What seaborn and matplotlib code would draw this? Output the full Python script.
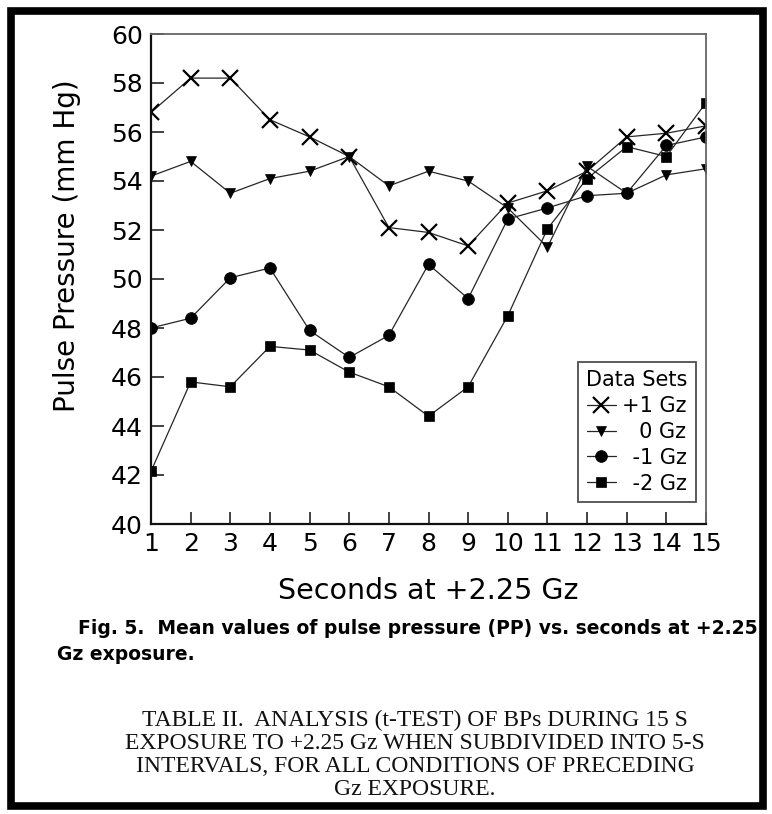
import numpy as np
import pandas as pd
import matplotlib
matplotlib.use("Agg")
import matplotlib.pyplot as plt
import seaborn as sns
from matplotlib.patches import Rectangle

# ---------------- data ----------------
seconds = list(range(1, 16))
series_names = ["+1 Gz", "0 Gz", "-1 Gz", "-2 Gz"]
pp_plus1 = [56.8, 58.2, 58.2, 56.5, 55.8, 55.0, 52.1, 51.9, 51.35, 53.1, 53.6, 54.4, 55.8, 55.95, 56.25]
pp_zero = [54.2, 54.8, 53.5, 54.1, 54.4, 55.0, 53.8, 54.4, 54.0, 52.9, 51.3, 54.6, 53.5, 54.25, 54.5]
pp_minus1 = [48.0, 48.4, 50.05, 50.45, 47.9, 46.8, 47.7, 50.6, 49.2, 52.45, 52.9, 53.4, 53.5, 55.45, 55.8]
pp_minus2 = [42.15, 45.8, 45.6, 47.25, 47.1, 46.2, 45.6, 44.4, 45.6, 48.5, 52.05, 54.1, 55.4, 55.0, 57.2]
y_ticks = list(range(40, 61, 2))
x_label = "Seconds at +2.25 Gz"
y_label = "Pulse Pressure (mm Hg)"
legend_title = "Data Sets"
caption_lines = ["Fig. 5.  Mean values of pulse pressure (PP) vs. seconds at +2.25",
                 "Gz exposure."]
table_lines = ["TABLE II.  ANALYSIS (t-TEST) OF BPs DURING 15 S",
               "EXPOSURE TO +2.25 Gz WHEN SUBDIVIDED INTO 5-S",
               "INTERVALS, FOR ALL CONDITIONS OF PRECEDING",
               "Gz EXPOSURE."]

values = [pp_plus1, pp_zero, pp_minus1, pp_minus2]
df = pd.DataFrame({
    "Seconds": seconds * len(series_names),
    "PP": sum(values, []),
    "Set": sum([[n] * len(seconds) for n in series_names], []),
})

# ---------------- styling ----------------
sns.set_theme(style="white")
plt.rcParams["font.family"] = ["DejaVu Sans"]
plt.rcParams["text.color"] = "black"
plt.rcParams["axes.labelcolor"] = "black"

W, H = 772, 814
fig = plt.figure(figsize=(W / 100, H / 100), dpi=100)
ax = fig.add_axes([151 / W, 1 - 524 / H, 555 / W, 490 / H])

marker_map = {"+1 Gz": "x", "0 Gz": "v", "-1 Gz": "o", "-2 Gz": "s"}
size_map = {"+1 Gz": 11, "0 Gz": 7.5, "-1 Gz": 8.5, "-2 Gz": 6.5}
legend_labels = {"+1 Gz": "+1 Gz", "0 Gz": "\u2002 0 Gz", "-1 Gz": "\u2002-1 Gz", "-2 Gz": "\u2002-2 Gz"}

for name in series_names:
    sub = df[df["Set"] == name]
    sns.lineplot(data=sub, x="Seconds", y="PP", ax=ax, color="#262626",
                 linewidth=0.9, marker=marker_map[name], markersize=size_map[name],
                 markeredgewidth=1.6 if name == "+1 Gz" else 0.5,
                 markerfacecolor="black", markeredgecolor="black",
                 label=legend_labels[name], estimator=None, sort=False)

ax.set_xlim(1, 15)
ax.set_ylim(40, 60)
ax.set_xticks(seconds)
ax.set_yticks(y_ticks)
ax.tick_params(axis="both", direction="in", length=9, width=1.2, color="#222",
               labelsize=18, labelcolor="black", left=True, bottom=True)
ax.tick_params(axis="y", pad=6)
ax.tick_params(axis="x", pad=6)

for s in ["left", "bottom"]:
    ax.spines[s].set_linewidth(1.6)
    ax.spines[s].set_color("#111")
for s in ["top", "right"]:
    ax.spines[s].set_linewidth(1.3)
    ax.spines[s].set_color("#666")
ax.grid(False)

ax.set_xlabel(x_label, fontsize=20.5, color="black")
ax.xaxis.set_label_coords(0.5, -0.108)
ax.set_ylabel(y_label, fontsize=20, color="black")
ax.yaxis.set_label_coords(-0.127, 0.567)

leg = ax.legend(title=legend_title, loc="lower right", bbox_to_anchor=(0.982, 0.045),
                borderaxespad=0, fontsize=15, title_fontsize=15, frameon=True,
                fancybox=False, edgecolor="#222", handlelength=1.4, handletextpad=0.3,
                labelspacing=0.28, borderpad=0.4)
leg.get_frame().set_linewidth(1.3)
for t in leg.get_texts():
    t.set_color("black")
leg.get_title().set_color("black")

# ---------------- captions ----------------
cap1 = fig.text(78 / W, 1 - 628 / H, caption_lines[0], fontsize=13, fontweight="bold",
                family=["DejaVu Sans"], ha="left", va="center", color="black")
fig.canvas.draw()
r = fig.canvas.get_renderer()
bw = cap1.get_window_extent(r).width
cap_fs = 13 * (755 - 78) / bw
cap1.set_fontsize(cap_fs)
fig.text(57 / W, 1 - 655 / H, caption_lines[1], fontsize=cap_fs, fontweight="bold",
         family=["DejaVu Sans"], ha="left", va="center", color="black")

for i, line in enumerate(table_lines):
    fig.text(415 / W, 1 - (720 + 23.3 * i) / H, line, fontsize=17,
             family=["Liberation Serif"], ha="center", va="center", color="#111")

# frame around the whole figure
fig.patches.append(Rectangle((11 / W, 1 - 806 / H), (763 - 11) / W, (806 - 11) / H,
                             transform=fig.transFigure, fill=False, edgecolor="black",
                             linewidth=5.5, joinstyle="miter"))

fig.savefig("out.png", dpi=100, facecolor="white")
